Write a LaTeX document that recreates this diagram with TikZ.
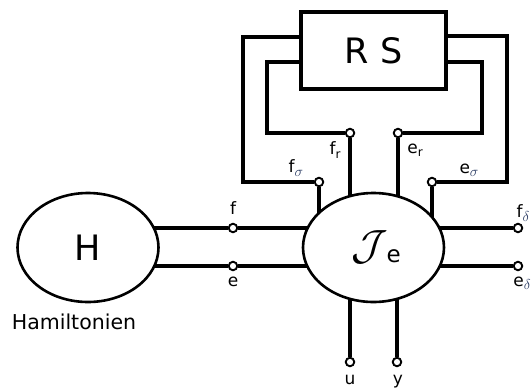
\documentclass[tikz,border=0pt]{standalone}
\usepackage{fontspec}
\setmainfont{DejaVu Sans}
\usetikzlibrary{shapes.geometric,backgrounds}
\definecolor{greek}{HTML}{2E3F66}
\newcommand\portsub[1]{{\fontsize{12}{12}\selectfont\raisebox{-3.5pt}{#1}}}
\newcommand\gsub[1]{{\fontsize{15}{15}\selectfont\raisebox{-3.5pt}{$\color{greek}#1$}}}
\begin{document}
\begin{tikzpicture}[x=1pt,y=-1pt,
  wire/.style={line width=3.2pt},
  port/.style={circle,draw,line width=1.9pt,fill=white,inner sep=0pt,minimum size=8.5pt},
  blob/.style={ellipse,draw,line width=2.6pt,fill=white,inner sep=0pt,minimum width=141pt,minimum height=109pt},
  lbl/.style={inner sep=0pt,font=\fontsize{17}{17}\selectfont},
  big/.style={font=\fontsize{35}{35}\selectfont}]
\useasboundingbox (0,0) rectangle (531,389);
% main blocks
\node[blob,big] (H) at (88,247.5) {H};
\node[inner sep=0pt,font=\fontsize{20.5}{20.5}\selectfont] (Hl) at (74,322) {Hamiltonien};
\node[blob] (J) at (373.5,247.5) {};
\node[inner sep=0pt] (Jt) at (376,247) {\scalebox{1.7}{\fontsize{24.88}{25}\selectfont$\mathcal{J}$}\kern-1pt{\fontsize{23}{23}\selectfont\raisebox{-3pt}{e}}};
\node[draw,line width=3.2pt,minimum width=145pt,minimum height=77pt,big] (RS) at (373.5,50.5) {R S};
% ports
\node[port] (pfs) at (319,182) {};
\node[port] (pfr) at (350,133) {};
\node[port] (per) at (398,133) {};
\node[port] (pes) at (432,182) {};
\node[port] (pf) at (233,228) {};
\node[port] (pe) at (233,266) {};
\node[port] (pfd) at (518,228) {};
\node[port] (ped) at (518,266) {};
\node[port] (pu) at (350,362) {};
\node[port] (py) at (397,362) {};
% labels
\node[lbl] (lf) at (233,208) {f};
\node[lbl] (le) at (233,282) {e};
\node[lbl] (lfr) at (335,150) {f\portsub{r}};
\node[lbl] (ler) at (415,150) {e\portsub{r}};
\node[lbl] (lfs) at (296,168) {f\gsub{\sigma}};
\node[lbl] (les) at (469,170) {e\gsub{\sigma}};
\node[lbl] (lfd) at (523,213) {f\gsub{\delta}};
\node[lbl] (led) at (522,283) {e\gsub{\delta}};
\node[lbl,anchor=base] (lu) at (350,384) {u};
\node[lbl,anchor=base] (ly) at (398,384) {y};
% wires
\begin{scope}[on background layer]
\draw[wire] ([yshift=13.5pt]RS.west) -| (243,182) -- (pfs);
\draw[wire] ([yshift=-11.5pt]RS.west) -| (267,133) -- (pfr);
\draw[wire] ([yshift=14.5pt]RS.east) -| (507,182) -- (pes);
\draw[wire] ([yshift=-11.5pt]RS.east) -| (482,133) -- (per);
\draw[wire] (pfs) -- (pfs |- J.center);
\draw[wire] (pfr) -- (pfr |- J.center);
\draw[wire] (per) -- (per |- J.center);
\draw[wire] (pes) -- (pes |- J.center);
\draw[wire] (pu) -- (pu |- J.center);
\draw[wire] (py) -- (py |- J.center);
\draw[wire] (H.center |- pf) -- (pf);
\draw[wire] (pf) -- (pf -| J.center);
\draw[wire] (H.center |- pe) -- (pe);
\draw[wire] (pe) -- (pe -| J.center);
\draw[wire] (pfd) -- (pfd -| J.center);
\draw[wire] (ped) -- (ped -| J.center);
\end{scope}
\end{tikzpicture}
\end{document}
